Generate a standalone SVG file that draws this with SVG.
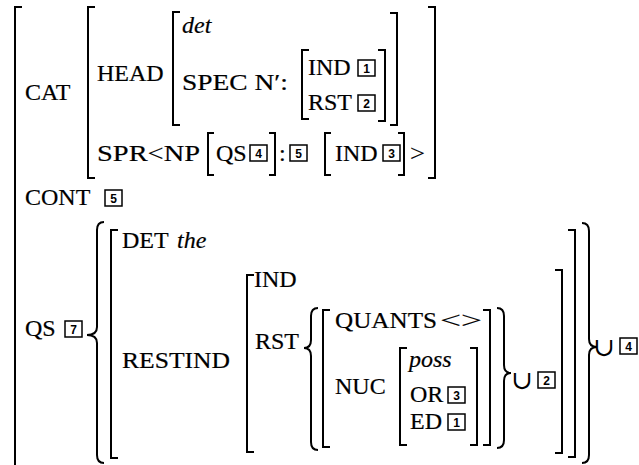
<svg xmlns="http://www.w3.org/2000/svg" width="639" height="465" viewBox="0 0 639 465">
<style>
  .t { font-family: "Liberation Serif", "Times New Roman", serif; font-size: 24px; fill: #000; stroke: #000; stroke-width: 0.2; }
  .i { font-style: italic; }
  .br { fill: none; stroke: #000; stroke-width: 2; stroke-linejoin: miter; }
  .box { fill: #fff; stroke: #000; stroke-width: 1.5; }
  .num { font-family: "Liberation Sans", Arial, sans-serif; font-size: 12px; font-weight: bold; text-anchor: middle; fill: #000; }
  .cup { font-family: "DejaVu Serif", "DejaVu Sans", serif; font-size: 26px; text-anchor: middle; fill: #000; }
</style>
<rect width="639" height="465" fill="#fff"/>

<!-- brackets and braces -->
<g id="connectors">
  <!-- outer matrix -->
  <path class="br" d="M22,7 H15 V466"/>
  <!-- CAT value -->
  <path class="br" d="M95,7 H88 V178 H95"/>
  <path class="br" d="M428,7 H435 V178 H428"/>
  <!-- HEAD value -->
  <path class="br" d="M180,12 H173 V125 H180"/>
  <path class="br" d="M390,13 H397 V125 H390"/>
  <!-- SPEC value -->
  <path class="br" d="M309,50 H302 V119 H309"/>
  <path class="br" d="M378,50 H385 V121 H378"/>
  <!-- QS 4 -->
  <path class="br" d="M214,133 H208 V175 H214"/>
  <path class="br" d="M269,133 H275 V175 H269"/>
  <!-- IND 3 -->
  <path class="br" d="M331,133 H325 V175 H331"/>
  <path class="br" d="M398,133 H404 V175 H398"/>
  <!-- QS set braces -->
  <path class="br" d="M104,222 Q97,222 97,230 L97,327 Q97,335 87,335 Q97,335 97,343 L97,455 Q97,463 104,463"/>
  <path class="br" d="M582,223 Q589,223 589,231 L589,339 Q589,347 597,347 Q589,347 589,355 L589,455 Q589,463 582,463"/>
  <!-- QS matrix -->
  <path class="br" d="M118,230 H111 V458 H118"/>
  <path class="br" d="M568,230 H575 V457 H568"/>
  <!-- RESTIND value -->
  <path class="br" d="M254,275 H247 V452 H254"/>
  <path class="br" d="M555,270 H562 V453 H555"/>
  <!-- RST set braces -->
  <path class="br" d="M318,308 Q311,308 311,316 L311,340 Q311,348 304,348 Q311,348 311,356 L311,442 Q311,450 318,450"/>
  <path class="br" d="M497,308 Q504,308 504,316 L504,365 Q504,373 511,373 Q504,373 504,381 L504,440 Q504,448 497,448"/>
  <!-- set element matrix -->
  <path class="br" d="M330,310 H323 V447 H330"/>
  <path class="br" d="M483,310 H490 V445 H483"/>
  <!-- NUC value -->
  <path class="br" d="M407,348 H400 V445 H407"/>
  <path class="br" d="M470,348 H477 V445 H470"/>
</g>

<g id="cat">
  <text class="t" x="25" y="100">CAT</text>
  <text class="t" x="97" y="81">HEAD</text>
  <text class="t i" x="182" y="33">det</text>
  <text class="t" x="182" y="90" textLength="106" lengthAdjust="spacingAndGlyphs">SPEC N′:</text>
  <text class="t" x="308" y="75">IND</text>
  <g><rect class="box" x="358" y="60" width="17" height="16"/><text class="num" x="366.5" y="72.5">1</text></g>
  <text class="t" x="308" y="110">RST</text>
  <g><rect class="box" x="358" y="95" width="17" height="16"/><text class="num" x="366.5" y="107.5">2</text></g>
  <text class="t" x="97" y="161" textLength="103" lengthAdjust="spacingAndGlyphs">SPR&lt;NP</text>
  <text class="t" x="216" y="161">QS</text>
  <g><rect class="box" x="250" y="145" width="17" height="16"/><text class="num" x="258.5" y="157.5">4</text></g>
  <text class="t" x="279" y="161">:</text>
  <g><rect class="box" x="290" y="145" width="17" height="16"/><text class="num" x="298.5" y="157.5">5</text></g>
  <text class="t" x="335" y="161">IND</text>
  <g><rect class="box" x="383" y="145" width="17" height="16"/><text class="num" x="391.5" y="157.5">3</text></g>
  <text class="t" x="410" y="161" textLength="15" lengthAdjust="spacingAndGlyphs">&gt;</text>
</g>

<g id="cont">
  <text class="t" x="25" y="205">CONT</text>
  <g><rect class="box" x="105" y="190" width="17" height="16"/><text class="num" x="113.5" y="202.5">5</text></g>
</g>

<g id="qs">
  <text class="t" x="25" y="336">QS</text>
  <g><rect class="box" x="65" y="321" width="17" height="16"/><text class="num" x="73.5" y="333.5">7</text></g>
  <text class="t" x="122" y="248">DET</text>
  <text class="t i" x="177" y="248">the</text>
  <text class="t" x="122" y="368" textLength="108" lengthAdjust="spacingAndGlyphs">RESTIND</text>
  <text class="t" x="254" y="287">IND</text>
  <text class="t" x="255" y="349">RST</text>
  <text class="t" x="335" y="328" textLength="102" lengthAdjust="spacingAndGlyphs">QUANTS</text>
  <text class="t" x="440" y="328" textLength="42" lengthAdjust="spacingAndGlyphs">&lt;&gt;</text>
  <text class="t" x="335" y="394">NUC</text>
  <text class="t i" x="409" y="367">poss</text>
  <text class="t" x="410" y="402">OR</text>
  <g><rect class="box" x="448" y="387" width="17" height="16"/><text class="num" x="456.5" y="399.5">3</text></g>
  <text class="t" x="410" y="429">ED</text>
  <g><rect class="box" x="448" y="414" width="17" height="16"/><text class="num" x="456.5" y="426.5">1</text></g>
  <text class="cup" x="522" y="389">∪</text>
  <g><rect class="box" x="538" y="372" width="17" height="16"/><text class="num" x="546.5" y="384.5">2</text></g>
  <text class="cup" x="604" y="356">∪</text>
  <g><rect class="box" x="620" y="338" width="17" height="16"/><text class="num" x="628.5" y="350.5">4</text></g>
</g>
</svg>
